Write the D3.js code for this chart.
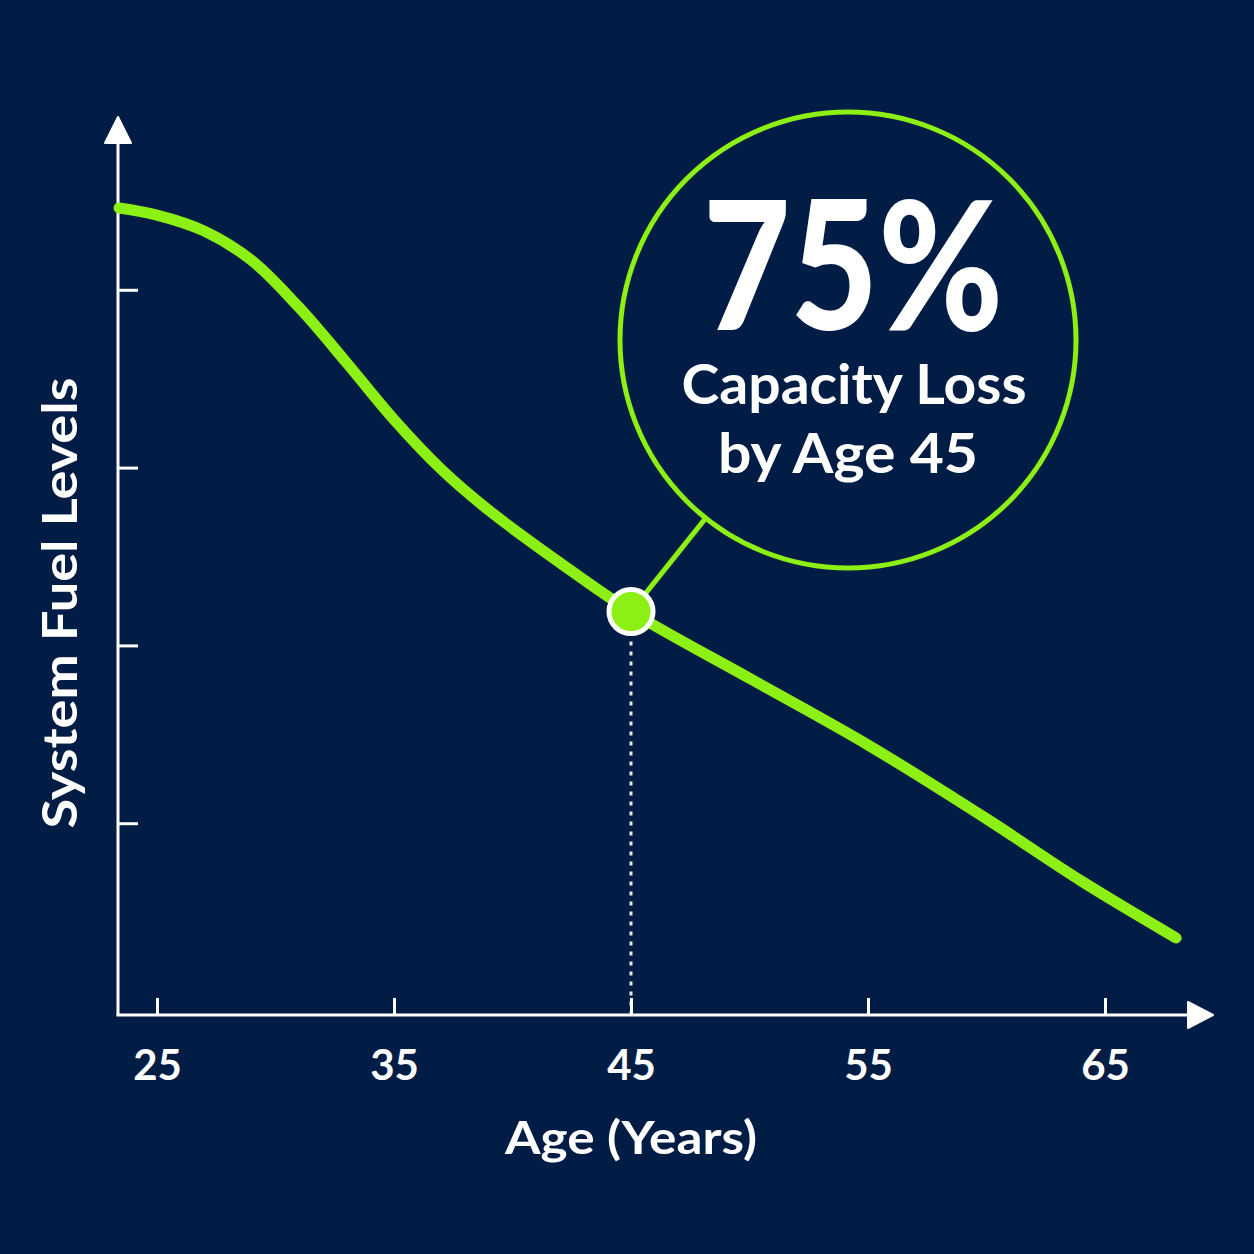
<!DOCTYPE html>
<html>
<head>
<meta charset="utf-8">
<script src="https://cdn.jsdelivr.net/npm/d3@7"></script>
<style>
  html, body { margin: 0; padding: 0; background: #021d45; }
  svg { display: block; }
  text { font-family: "Lato", "Open Sans", sans-serif; fill: #ffffff; }
</style>
</head>
<body>
<div id="chart"></div>
<script>
// curve: age (years) vs system fuel level (0-100)
var ages = [23.4, 25, 27, 29, 31, 33, 35, 37, 39, 42, 45, 50, 55, 60, 64, 68];
var fuel = [89.2, 88.4, 86.6, 83.3, 78.0, 71.8, 65.4, 59.8, 55.2, 49.3, 43.8, 36.3, 28.8, 20.5, 13.5, 7.1];

var xTicks = [25, 35, 45, 55, 65];
var yTicks = [20, 40, 60, 80];

var markAge = 45;
var calloutLines = ["75%", "Capacity Loss", "by Age 45"];

var width = 1254, height = 1254;
var green = "#8cf014", navy = "#021d45";

var originX = 118, originY = 1015;

var x = d3.scaleLinear().domain([25, 65]).range([157, 1105]);
var y = d3.scaleLinear().domain([0, 100]).range([1001, 112]);

var svg = d3.select("#chart").append("svg")
    .attr("width", width)
    .attr("height", height);

svg.append("rect")
    .attr("width", width)
    .attr("height", height)
    .attr("fill", navy);

// y axis ticks (pointing inward, no labels)
var yAxis = svg.append("g")
    .attr("transform", "translate(" + originX + ",0)")
    .call(d3.axisLeft(y).tickValues(yTicks).tickSize(-20).tickFormat(""));
yAxis.select(".domain").remove();
yAxis.selectAll(".tick line").attr("stroke", "#fff").attr("stroke-width", 3);

// x axis ticks (pointing up) with labels below
var xAxis = svg.append("g")
    .attr("transform", "translate(0," + originY + ")")
    .call(d3.axisBottom(x).tickValues(xTicks).tickSize(-17).tickPadding(35).tickFormat(d3.format("d")));
xAxis.select(".domain").remove();
xAxis.selectAll(".tick line").attr("stroke", "#fff").attr("stroke-width", 3);
xAxis.selectAll(".tick text")
    .attr("fill", "#fff")
    .style("font-family", "Lato, sans-serif")
    .style("font-size", "42px")
    .style("font-weight", 700);

// axis lines with arrowheads
svg.append("path")
    .attr("d", "M" + originX + "," + originY + "V" + 135)
    .attr("stroke", "#fff").attr("stroke-width", 3).attr("fill", "none");
svg.append("path")
    .attr("d", "M" + (originX - 1.5) + "," + originY + "H" + 1195)
    .attr("stroke", "#fff").attr("stroke-width", 3).attr("fill", "none");
svg.append("path")
    .attr("d", "M" + originX + ",117 L" + (originX + 13) + ",143 L" + (originX - 13) + ",143 Z")
    .attr("fill", "#fff").attr("stroke", "#fff").attr("stroke-width", 2).attr("stroke-linejoin", "round");
svg.append("path")
    .attr("d", "M1213," + originY + " L1188," + (originY - 13) + " L1188," + (originY + 13) + " Z")
    .attr("fill", "#fff").attr("stroke", "#fff").attr("stroke-width", 2).attr("stroke-linejoin", "round");

// axis titles
svg.append("text")
    .attr("transform", "translate(77,603) rotate(-90)")
    .attr("text-anchor", "middle")
    .attr("textLength", 451)
    .attr("lengthAdjust", "spacingAndGlyphs")
    .style("font-size", "47px")
    .style("font-weight", 700)
    .text("System Fuel Levels");

svg.append("text")
    .attr("x", 631)
    .attr("y", 1154)
    .attr("text-anchor", "middle")
    .attr("textLength", 252)
    .attr("lengthAdjust", "spacingAndGlyphs")
    .style("font-size", "46px")
    .style("font-weight", 700)
    .text("Age (Years)");

// the curve
var points = ages.map(function(a, i) { return [a, fuel[i]]; });
var line = d3.line()
    .x(function(d) { return x(d[0]); })
    .y(function(d) { return y(d[1]); })
    .curve(d3.curveCatmullRom.alpha(0.5));

svg.append("path")
    .datum(points)
    .attr("d", line)
    .attr("fill", "none")
    .attr("stroke", green)
    .attr("stroke-width", 11)
    .attr("stroke-linecap", "round");

// marker at age 45
var markVal = fuel[ages.indexOf(markAge)];
var mx = x(markAge), my = y(markVal);

svg.append("line")
    .attr("x1", mx).attr("x2", mx)
    .attr("y1", my + 30).attr("y2", originY - 2)
    .attr("stroke", "#fff")
    .attr("stroke-width", 3)
    .attr("stroke-dasharray", "4,6")
    .attr("opacity", 0.9);

// callout circle
var cx = 848, cy = 340, r = 228;
var dx = cx - mx, dy = cy - my, len = Math.sqrt(dx * dx + dy * dy);

svg.append("line")
    .attr("x1", mx).attr("y1", my)
    .attr("x2", cx - r * dx / len).attr("y2", cy - r * dy / len)
    .attr("stroke", green)
    .attr("stroke-width", 5);

svg.append("circle")
    .attr("cx", cx).attr("cy", cy).attr("r", r)
    .attr("fill", "none")
    .attr("stroke", green)
    .attr("stroke-width", 5);

svg.append("circle")
    .attr("cx", mx).attr("cy", my).attr("r", 22)
    .attr("fill", green)
    .attr("stroke", "#fff")
    .attr("stroke-width", 5);

svg.append("text")
    .attr("x", 853).attr("y", 330)
    .attr("text-anchor", "middle")
    .attr("textLength", 300)
    .attr("lengthAdjust", "spacingAndGlyphs")
    .style("font-size", "180px")
    .style("font-weight", 900)
    .text(calloutLines[0]);

svg.append("text")
    .attr("x", 854).attr("y", 404)
    .attr("text-anchor", "middle")
    .attr("textLength", 345)
    .attr("lengthAdjust", "spacingAndGlyphs")
    .style("font-size", "56px")
    .style("font-weight", 700)
    .text(calloutLines[1]);

svg.append("text")
    .attr("x", 848).attr("y", 473)
    .attr("text-anchor", "middle")
    .attr("textLength", 260)
    .attr("lengthAdjust", "spacingAndGlyphs")
    .style("font-size", "56px")
    .style("font-weight", 700)
    .text(calloutLines[2]);
</script>
</body>
</html>
